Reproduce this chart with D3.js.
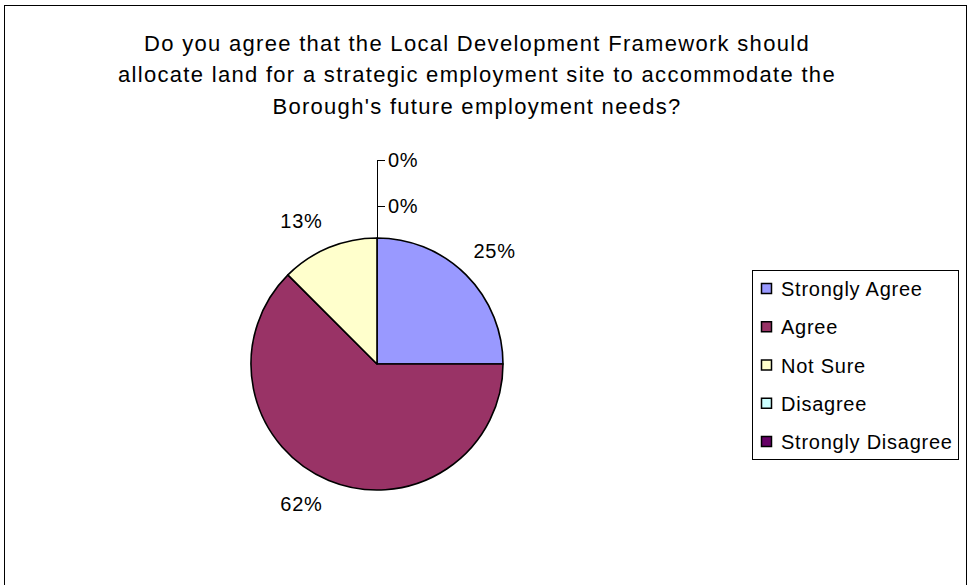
<!DOCTYPE html>
<html>
<head>
<meta charset="utf-8">
<script src="https://cdn.jsdelivr.net/npm/d3@7"></script>
<style>
  html, body { margin: 0; padding: 0; background: #fff; }
  svg { display: block; font-family: "Liberation Sans", Arial, Helvetica, sans-serif; }
</style>
</head>
<body>
<svg id="chart" width="969" height="585"></svg>
<script>
// ---- data ----
const titleLines = [
  "Do you agree that the Local Development Framework should",
  "allocate land for a strategic employment site to accommodate the",
  "Borough's future employment needs?"
];
const categories = ["Strongly Agree", "Agree", "Not Sure", "Disagree", "Strongly Disagree"];
const values = [25, 62.5, 12.5, 0, 0];
const valueLabels = ["25%", "62%", "13%", "0%", "0%"];
const colors = ["#9999FF", "#993366", "#FFFFCC", "#CCFFFF", "#660066"];

// ---- layout ----
const svg = d3.select("#chart");

// outer chart border
svg.append("rect")
  .attr("x", 4.5).attr("y", 5.5)
  .attr("width", 962).attr("height", 600)
  .attr("fill", "#fff").attr("stroke", "#000").attr("stroke-width", 1);

// title
const title = svg.append("text")
  .attr("text-anchor", "middle")
  .attr("font-size", 22)
  .attr("letter-spacing", 1.3)
  .attr("fill", "#000");
titleLines.forEach((t, i) => {
  title.append("tspan").attr("x", 477).attr("y", 50.5 + i * 31.5).text(t);
});

// pie
const cx = 377, cy = 364, R = 126;
const g = svg.append("g").attr("transform", `translate(${cx},${cy})`);
const pie = d3.pie().sort(null).value(d => d).startAngle(0).endAngle(2 * Math.PI);
const arcs = pie(values);
const arc = d3.arc().innerRadius(0).outerRadius(R);

g.selectAll("path.slice")
  .data(arcs.filter(d => d.value > 0))
  .join("path")
  .attr("class", "slice")
  .attr("d", arc)
  .attr("fill", (d) => colors[d.index])
  .attr("stroke", "#000")
  .attr("stroke-width", 1.6)
  .attr("stroke-linejoin", "round");

// labels for non-zero slices: box corner touches a circle slightly outside the pie
const labelR = R * 1.1;
const fs = 20;
arcs.forEach((d, i) => {
  if (d.value <= 0) return;
  const a = (d.startAngle + d.endAngle) / 2;
  const px = Math.sin(a) * labelR, py = -Math.cos(a) * labelR;
  const t = g.append("text")
    .attr("font-size", fs)
    .attr("letter-spacing", 0.7)
    .attr("text-anchor", "middle")
    .attr("fill", "#000")
    .text(valueLabels[i]);
  const bb = t.node().getBBox();
  const w = bb.width, h = fs;
  const lx = px + Math.sign(Math.sin(a)) * w / 2;
  const ly = py - Math.sign(Math.cos(a)) * h / 2;
  t.attr("x", lx - 1.5).attr("y", ly + fs * 0.36 + (Math.cos(a) > 0 ? -5 : 2));
});

// labels for zero slices: stacked above with leader line
const zeroIdx = arcs.filter(d => d.value <= 0).map(d => d.index);
const zeroOffsets = [32, 78];
if (zeroIdx.length) {
  const top = -R;
  const maxOff = zeroOffsets[zeroIdx.length - 1];
  g.append("line")
    .attr("x1", 0.5).attr("x2", 0.5)
    .attr("y1", top).attr("y2", top - maxOff)
    .attr("stroke", "#000").attr("stroke-width", 1);
  zeroIdx.forEach((idx, k) => {
    const y = top - zeroOffsets[k];
    g.append("line")
      .attr("x1", 0.5).attr("x2", 8)
      .attr("y1", y + 0.5).attr("y2", y + 0.5)
      .attr("stroke", "#000").attr("stroke-width", 1);
    g.append("text")
      .attr("x", 11).attr("y", y + fs * 0.36)
      .attr("font-size", fs)
      .attr("letter-spacing", 0.7)
      .attr("fill", "#000")
      .text(valueLabels[idx]);
  });
}

// legend
const lg = svg.append("g");
lg.append("rect")
  .attr("x", 752.5).attr("y", 270.5)
  .attr("width", 206).attr("height", 189)
  .attr("fill", "#fff").attr("stroke", "#000").attr("stroke-width", 1);
const rowY = d3.scalePoint().domain(categories).range([289, 442]);
categories.forEach((c, i) => {
  const y = rowY(c);
  lg.append("rect")
    .attr("x", 761.5).attr("y", y - 5.5)
    .attr("width", 10).attr("height", 10)
    .attr("fill", colors[i])
    .attr("stroke", "#000").attr("stroke-width", 1.5);
  lg.append("text")
    .attr("x", 781).attr("y", y + 7)
    .attr("font-size", 20)
    .attr("letter-spacing", 0.75)
    .attr("fill", "#000")
    .text(c);
});
</script>
</body>
</html>
